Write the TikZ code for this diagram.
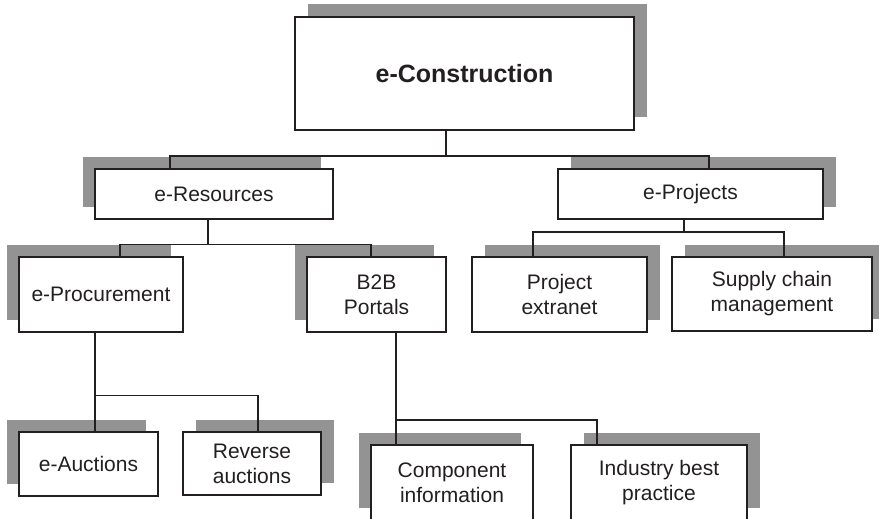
\documentclass[tikz,border=0pt]{standalone}
\usepackage{fontspec}
\setmainfont{Liberation Sans}
\usetikzlibrary{shadows}
\definecolor{ink}{HTML}{231F20}
\definecolor{shade}{HTML}{939393}

\begin{document}
\begin{tikzpicture}[x=1pt,y=-1pt,
  box/.style={draw=ink,line width=1.8pt,fill=white,inner sep=0pt,align=center,
    text=ink,font=\fontsize{21}{25}\selectfont},
  shl/.style={general shadow={fill=shade,shadow xshift=-12.5pt,shadow yshift=12.5pt}},
  shr/.style={general shadow={fill=shade,shadow xshift=12.5pt,shadow yshift=12.5pt}},
  link/.style={draw=ink,line width=1.8pt}]
\useasboundingbox (0,0) rectangle (879,519);
\clip (0,0) rectangle (879,519);
% top level
\node[box,shr,minimum width=339pt,minimum height=113pt,
  font=\fontsize{25}{30}\selectfont\bfseries] (cons) at (464.5,73.5) {e-Construction};
% second level
\node[box,shl,minimum width=238pt,minimum height=50pt] (res) at (214,194) {e-Resources};
\node[box,shr,minimum width=265pt,minimum height=50pt] (proj) at (690.5,194) {e-Projects};
% third level
\node[box,shl,minimum width=164pt,minimum height=75pt] (proc) at (101,294.5) {e-Procurement};
\node[box,shl,minimum width=139pt,minimum height=75pt] (b2b) at (376.5,294.5) {B2B\\Portals};
\node[box,shr,minimum width=175pt,minimum height=75pt] (extr) at (559.5,294.5) {Project\\extranet};
\node[box,shr,minimum width=200pt,minimum height=74pt] (scm) at (772,294) {Supply chain\\management};
% bottom level
\node[box,shl,minimum width=139pt,minimum height=64pt] (auct) at (88.5,464) {e-Auctions};
\node[box,shr,minimum width=138pt,minimum height=63pt] (rev) at (252,463.5) {Reverse\\auctions};
\node[box,shl,minimum width=162pt,minimum height=75pt] (comp) at (452,482.5) {Component\\information};
\node[box,shr,minimum width=176pt,minimum height=75pt] (ind) at (659,482.5) {Industry best\\practice};
% connectors
\coordinate (bus1) at (446,156);
\coordinate (bus2) at (208,244.5);
\coordinate (bus3) at (684,232);
\coordinate (bus4) at (95,395.5);
\coordinate (bus5) at (396,420);
\draw[link] ([xshift=-18.5pt]cons.south) -- (bus1);
\draw[link] ([xshift=-44pt]res.north) |- (bus1) -| ([xshift=18.5pt]proj.north);
\draw[link] ([xshift=-6pt]res.south) -- (bus2);
\draw[link] ([xshift=19pt]proc.north) |- (bus2) -| ([xshift=-5.5pt]b2b.north);
\draw[link] ([xshift=-6.5pt]proj.south) -- (bus3);
\draw[link] ([xshift=-26.5pt]extr.north) |- (bus3) -| ([xshift=12pt]scm.north);
\draw[link] ([xshift=-6pt]proc.south) -- (bus4);
\draw[link] ([xshift=6.5pt]auct.north) |- (bus4) -| ([xshift=6pt]rev.north);
\draw[link] ([xshift=19.5pt]b2b.south) -- (bus5);
\draw[link] ([xshift=-56pt]comp.north) |- (bus5) -| ([xshift=-62pt]ind.north);
\end{tikzpicture}
\end{document}
